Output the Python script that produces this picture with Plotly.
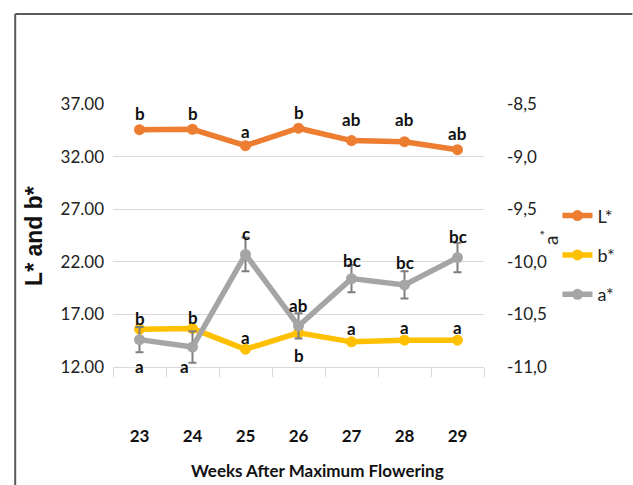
import plotly.graph_objects as go

# Weeks after maximum flowering
weeks = [23, 24, 25, 26, 27, 28, 29]

# Colour coordinates per week
L_star = [34.56, 34.60, 33.04, 34.70, 33.52, 33.42, 32.66]
b_star = [15.59, 15.65, 13.69, 15.25, 14.39, 14.55, 14.55]
a_star = [-10.74, -10.81, -9.93, -10.61, -10.16, -10.22, -9.96]
a_star_err = [0.12, 0.15, 0.16, 0.12, 0.13, 0.13, 0.14]

# Significance letters
L_letters = ["b", "b", "a", "b", "ab", "ab", "ab"]
b_letters = ["b", "b", "a", "b", "a", "a", "a"]
a_letters = ["a", "a", "c", "ab", "bc", "bc", "bc"]

left_ticks = [12, 17, 22, 27, 32, 37]
left_ticktext = ["12.00", "17.00", "22.00", "27.00", "32.00", "37.00"]
right_ticks = [-11.0, -10.5, -10.0, -9.5, -9.0, -8.5]
right_ticktext = ["-11,0", "-10,5", "-10,0", "-9,5", "-9,0", "-8,5"]

# letter placement (pixel offsets from each point)
L_shift = [(0, 16), (0, 16), (0, 14), (0, 16), (0, 21), (0, 22), (0, 16)]
b_shift = [(0, 11), (0, 11), (0, 12), (0, -23), (0, 13), (0, 13), (0, 13)]
a_shift = [(0, -27), (-8, -19), (0, 21), (0, 20), (0, 18), (0, 22), (0, 21)]

ORANGE = "#ED7D31"
YELLOW = "#FFC000"
GREY = "#A5A5A5"
FONT = "Lato, Liberation Sans Narrow, DejaVu Sans Condensed, sans-serif"

fig = go.Figure()
fig.add_trace(go.Scatter(
    x=weeks, y=L_star, name="L*", mode="lines+markers", legendgroup="L",
    line=dict(color=ORANGE, width=5.5), marker=dict(color=ORANGE, size=11),
))
fig.add_trace(go.Scatter(
    x=weeks, y=b_star, name="b*", mode="lines+markers", legendgroup="b",
    line=dict(color=YELLOW, width=5.5), marker=dict(color=YELLOW, size=11),
))
fig.add_trace(go.Scatter(
    x=weeks, y=a_star, name="a*", mode="lines+markers", legendgroup="a",
    yaxis="y2",
    line=dict(color=GREY, width=5.5), marker=dict(color=GREY, size=11),
    error_y=dict(type="data", array=a_star_err, visible=True,
                 color="#7F7F7F", thickness=2, width=4),
))

annotations = []
for series, letters, shifts, yref in (
    (L_star, L_letters, L_shift, "y"),
    (b_star, b_letters, b_shift, "y"),
    (a_star, a_letters, a_shift, "y2"),
):
    for wk, val, txt, (dx, dy) in zip(weeks, series, letters, shifts):
        annotations.append(dict(
            x=wk, y=val, xref="x", yref=yref, text=txt, showarrow=False,
            xanchor="center", yanchor="middle",
            xshift=dx, yshift=dy,
            font=dict(family=FONT, size=17, color="#111111", weight="bold"),
        ))

# axis titles
annotations.append(dict(
    x=-0.2145, y=0.5, xref="paper", yref="paper", text="<b>L* and b*</b>",
    textangle=-90, showarrow=False, xanchor="center", yanchor="middle",
    font=dict(family="Liberation Sans, Arial, sans-serif", size=23, color="#111111"),
))
annotations.append(dict(
    x=1.175, y=0.494, xref="paper", yref="paper", text="a<sup>*</sup>",
    textangle=-90, showarrow=False, xanchor="center", yanchor="middle",
    font=dict(family=FONT, size=19, color="#222222"),
))
annotations.append(dict(
    x=0.55, y=-0.392, xref="paper", yref="paper",
    text="Weeks After Maximum Flowering", showarrow=False,
    xanchor="center", yanchor="middle",
    font=dict(family=FONT, size=17, color="#111111", weight="bold"),
))

fig.update_layout(
    width=633, height=485,
    margin=dict(l=113, r=133, t=104, b=118),
    paper_bgcolor="white", plot_bgcolor="white",
    showlegend=True,
    legend=dict(
        x=1.198, y=0.645, xanchor="left", yanchor="top",
        font=dict(family=FONT, size=18, color="#222222"),
        tracegroupgap=13, bgcolor="rgba(0,0,0,0)",
    ),
    xaxis=dict(
        range=[22.5, 29.5], tickvals=weeks, showgrid=False, zeroline=False,
        showline=True, linecolor="#D9D9D9", linewidth=1,
        ticks="", ticklabelstandoff=54,
        minor=dict(ticks="outside", tick0=22.5, dtick=1, ticklen=9,
                   tickcolor="#D9D9D9", showgrid=False),
        tickfont=dict(family=FONT, size=17, color="#111111", weight="bold"),
    ),
    yaxis=dict(
        range=[12, 37], tickvals=left_ticks, ticktext=left_ticktext,
        showgrid=True, gridcolor="#D9D9D9", gridwidth=1, zeroline=False,
        showline=False, ticks="", ticklabelstandoff=8,
        tickfont=dict(family=FONT, size=17, color="#222222"),
    ),
    yaxis2=dict(
        range=[-11.0, -8.5], tickvals=right_ticks, ticktext=right_ticktext,
        overlaying="y", side="right", showgrid=False, zeroline=False,
        showline=False, ticks="", ticklabelstandoff=22,
        tickfont=dict(family=FONT, size=17, color="#222222"),
    ),
    annotations=annotations,
    shapes=[
        # frame lines along the top and left edges
        dict(type="line", xref="paper", yref="paper",
             x0=-0.2636, x1=1.4, y0=1.3422, y1=1.3422,
             line=dict(color="#5A5A5A", width=2)),
        dict(type="line", xref="paper", yref="paper",
             x0=-0.2636, x1=-0.2636, y0=1.3422, y1=-0.5,
             line=dict(color="#5A5A5A", width=2)),
    ],
)

fig.write_html("out.html")
